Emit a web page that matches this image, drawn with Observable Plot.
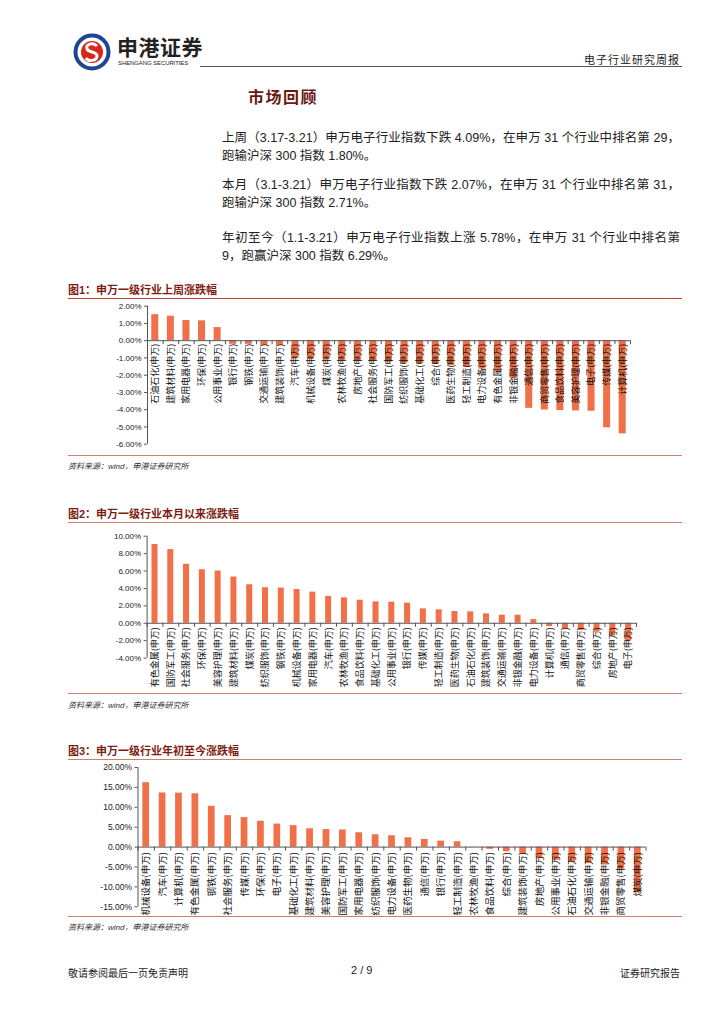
<!DOCTYPE html>
<html><head><meta charset="utf-8">
<script src="https://cdn.jsdelivr.net/npm/d3@7"></script>
<script src="https://cdn.jsdelivr.net/npm/@observablehq/plot@0.6"></script>
<style>
body{margin:0;width:724px;height:1024px;position:relative;background:#fff;font-family:"Liberation Sans","Noto Sans CJK SC",sans-serif;overflow:hidden;color:#222}
.abs{position:absolute;white-space:nowrap}
.para{font-size:12.5px;line-height:18px}
.just{display:block;width:458px;text-align:justify;text-align-last:justify}
.ftitle{font-size:11px;font-weight:bold;color:#7d1d12}
.src{font-size:8px;font-style:italic;color:#333}
.hline{position:absolute;height:0}
svg.chart{position:absolute;left:0}
</style></head><body>
<script>
// ---------- data ----------
const names1 = ["石油石化","建筑材料","家用电器","环保","公用事业","银行","钢铁","交通运输","建筑装饰","汽车","机械设备","煤炭","农林牧渔","房地产","社会服务","国防军工","纺织服饰","基础化工","综合","医药生物","轻工制造","电力设备","有色金属","非银金融","通信","商贸零售","食品饮料","美容护理","电子","传媒","计算机"];
const values1 = [1.51,1.42,1.17,1.15,0.76,-0.21,-0.21,-0.27,-0.27,-1.05,-1.08,-1.10,-1.13,-1.17,-1.19,-1.24,-1.30,-1.32,-1.38,-1.45,-1.55,-1.65,-1.75,-2.20,-3.92,-4.02,-4.05,-4.07,-4.09,-5.05,-5.40];
const ticks1 = [2,1,0,-1,-2,-3,-4,-5,-6];

const names2 = ["有色金属","国防军工","社会服务","环保","美容护理","建筑材料","煤炭","纺织服饰","钢铁","机械设备","家用电器","汽车","农林牧渔","食品饮料","基础化工","公用事业","银行","传媒","轻工制造","医药生物","石油石化","建筑装饰","交通运输","非银金融","电力设备","计算机","通信","商贸零售","综合","房地产","电子"];
const values2 = [9.04,8.46,6.77,6.15,6.00,5.31,4.42,4.08,4.04,3.88,3.58,3.08,2.92,2.65,2.46,2.42,2.31,1.65,1.54,1.35,1.31,1.08,0.92,0.92,0.42,-0.38,-0.62,-0.81,-1.00,-1.45,-2.07];
const ticks2 = [10,8,6,4,2,0,-2,-4];

const names3 = ["机械设备","汽车","计算机","有色金属","钢铁","社会服务","传媒","环保","电子","基础化工","建筑材料","美容护理","国防军工","家用电器","纺织服饰","电力设备","医药生物","通信","银行","轻工制造","农林牧渔","食品饮料","综合","建筑装饰","房地产","公用事业","石油石化","交通运输","非银金融","商贸零售","煤炭"];
const values3 = [16.2,13.6,13.55,13.4,10.25,7.9,7.4,6.5,5.78,5.4,4.6,4.4,4.3,3.6,3.1,2.86,2.35,1.93,1.5,1.34,0.05,-0.55,-1.18,-1.76,-2.9,-3.3,-3.9,-4.1,-4.5,-5.5,-11.5];
const ticks3 = [20,15,10,5,0,-5,-10,-15];
</script>

<!-- header -->
<svg class="abs" style="left:72px;top:32px" width="40" height="40" viewBox="0 0 40 40">
  <circle cx="20" cy="20" r="16.5" fill="none" stroke="#1d4796" stroke-width="4"/>
  <circle cx="20" cy="20" r="11" fill="#d8261d"/>
  <path d="M25 14 C21 10,13 12,15 17 C17 21,25 19,25 24 C25 29,16 30,14 26" fill="none" stroke="#fff" stroke-width="3"/>
</svg>
<div class="abs" style="left:117px;top:33px;font-size:21px;font-weight:bold;color:#222;font-family:'Noto Sans CJK SC';letter-spacing:0.5px;line-height:26px">申港证券</div>
<div class="abs" style="left:118px;top:60px;font-size:6px;color:#222;letter-spacing:-0.1px">SHENGANG SECURITIES</div>
<div class="hline" style="left:200px;width:482px;top:66px;border-top:1.5px solid #555"></div>
<div class="abs" style="right:44px;top:51px;font-size:11px;color:#222;font-family:'Noto Sans CJK SC';letter-spacing:1px">电子行业研究周报</div>

<div class="abs" style="left:248px;top:84px;font-size:16px;font-weight:bold;color:#6a1a0f;font-family:'Noto Sans CJK SC';letter-spacing:1.5px">市场回顾</div>

<div class="abs para" style="left:222px;top:129px"><span class="just">上周（3.17-3.21）申万电子行业指数下跌 4.09%，在申万 31 个行业中排名第 29，</span>跑输沪深 300 指数 1.80%。</div>
<div class="abs para" style="left:222px;top:176px"><span class="just">本月（3.1-3.21）申万电子行业指数下跌 2.07%，在申万 31 个行业中排名第 31，</span>跑输沪深 300 指数 2.71%。</div>
<div class="abs para" style="left:222px;top:229px"><span class="just">年初至今（1.1-3.21）申万电子行业指数上涨 5.78%，在申万 31 个行业中排名第</span>9，跑赢沪深 300 指数 6.29%。</div>

<!-- figure 1 -->
<div class="abs ftitle" style="left:68px;top:281px">图1：申万一级行业上周涨跌幅</div>
<div class="hline" style="left:68px;width:614px;top:298px;border-top:1.5px solid #b5452e"></div>
<div id="c1"></div>
<div class="hline" style="left:68px;width:614px;top:455px;border-top:1px solid #c98270"></div>
<div class="abs src" style="left:68px;top:460px">资料来源：wind，申港证券研究所</div>

<!-- figure 2 -->
<div class="abs ftitle" style="left:68px;top:505px">图2：申万一级行业本月以来涨跌幅</div>
<div class="hline" style="left:68px;width:614px;top:522px;border-top:1px solid #c98270"></div>
<div id="c2"></div>
<div class="hline" style="left:68px;width:614px;top:693px;border-top:1px solid #c98270"></div>
<div class="abs src" style="left:68px;top:699px">资料来源：wind，申港证券研究所</div>

<!-- figure 3 -->
<div class="abs ftitle" style="left:68px;top:742px">图3：申万一级行业年初至今涨跌幅</div>
<div class="hline" style="left:68px;width:614px;top:759px;border-top:1px solid #c98270"></div>
<div id="c3"></div>
<div class="hline" style="left:68px;width:614px;top:916px;border-top:1px solid #c98270"></div>
<div class="abs src" style="left:68px;top:921px">资料来源：wind，申港证券研究所</div>

<!-- footer -->
<div class="abs" style="left:68px;top:965px;font-size:10px;font-family:'Noto Sans CJK SC'">敬请参阅最后一页免责声明</div>
<div class="abs" style="left:351px;top:964px;font-size:11px">2 / 9</div>
<div class="abs" style="right:44px;top:965px;font-size:10px;font-family:'Noto Sans CJK SC'">证券研究报告</div>

<script>
const BAR = "#ef7049";
const AXIS = "#555";
function chart(el, {names, values, ticks, top, height, mt, mb, ml, mr, pi, dy, fs, tfs}) {
  const data = names.map((n, i) => ({name: n, value: values[i]}));
  const W = 724;
  const step = (W - ml - mr) / names.length;
  const ymin = d3.min(ticks), ymax = d3.max(ticks);
  const svg = Plot.plot({
    width: W, height,
    marginLeft: ml, marginRight: mr, marginTop: mt, marginBottom: mb,
    style: {fontFamily: "Liberation Sans, Arial, sans-serif", background: "transparent", overflow: "visible"},
    x: {domain: names, paddingInner: pi, paddingOuter: pi / 2, round: false, axis: null},
    y: {domain: [ymin, ymax], axis: null},
    marks: [
      Plot.barY(data, {x: "name", y: "value", fill: BAR}),
      Plot.ruleY([0], {stroke: AXIS}),
      Plot.ruleX([names[0]], {x: d => d, y1: ymin, y2: ymax, dx: -step / 2, stroke: AXIS}),
      Plot.ruleX(names, {x: d => d, y1: 0, y2: 0, insetBottom: -4, dx: -step / 2, stroke: AXIS}),
      Plot.ruleX([names[names.length - 1]], {x: d => d, y1: 0, y2: 0, insetBottom: -4, dx: step / 2, stroke: AXIS}),
      Plot.axisY({ticks, tickFormat: d => d.toFixed(2) + "%", tickSize: 3, tickPadding: 3, fontSize: tfs, stroke: AXIS, fill: "#222", label: null}),
      Plot.text(data, {x: "name", y: () => 0, text: d => d.name + "(申万)", rotate: -90, textAnchor: "end", dy, fontSize: fs, fill: "#111", fontFamily: "Noto Sans CJK SC"})
    ]
  });
  svg.setAttribute("class", "chart");
  svg.style.top = top + "px";
  svg.style.position = "absolute";
  svg.style.left = "0px";
  document.getElementById(el).appendChild(svg);
}
chart("c1", {names: names1, values: values1, ticks: ticks1, top: 300, height: 155, mt: 5.7, mb: 11.3, ml: 147, mr: 94, pi: 0.55, dy: 3, fs: 9, tfs: 8});
chart("c2", {names: names2, values: values2, ticks: ticks2, top: 524, height: 169, mt: 11.7, mb: 35.4, ml: 146.6, mr: 88, pi: 0.62, dy: 4, fs: 9, tfs: 8});
chart("c3", {names: names3, values: values3, ticks: ticks3, top: 761, height: 155, mt: 6, mb: 9.7, ml: 137.5, mr: 78.5, pi: 0.59, dy: 5, fs: 9.5, tfs: 8.5});
</script>
</body></html>
